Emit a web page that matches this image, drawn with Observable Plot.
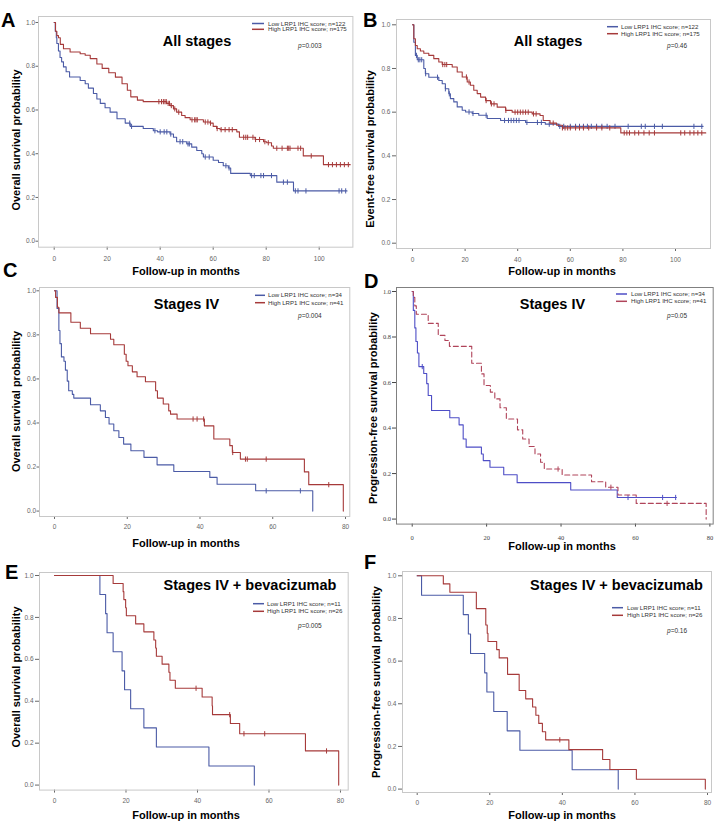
<!DOCTYPE html>
<html><head><meta charset="utf-8">
<script src="https://cdn.jsdelivr.net/npm/d3@7"></script>
<script src="https://cdn.jsdelivr.net/npm/@observablehq/plot@0.6"></script>
<style>
html,body{margin:0;padding:0;background:#fff;}
#fig{position:relative;width:727px;height:826px;overflow:hidden;background:#fff;}
#fig > svg{position:absolute;overflow:visible;}
</style></head><body><div id="fig"></div>
<script>
// ---------------- DATA ----------------
// Panel A: overall survival, all stages
const aLowT = [0,0.4,0.8,1.0,1.6,2.2,2.8,3.5,4.5,5.8,9.8,11.7,12.9,14.8,16.1,17.4,19.2,21.1,23.7,26.8,28.7,33.6,37.4,39,43.7,45,46.2,50,51.9,53.8,55.7,56.3,60,62,63.8,65.7,66.6,74,84,90.3,110.5];
const aLowS = [1,0.96,0.93,0.904,0.87,0.84,0.82,0.797,0.775,0.751,0.735,0.72,0.70,0.675,0.65,0.63,0.61,0.59,0.56,0.54,0.525,0.515,0.505,0.50,0.49,0.475,0.455,0.445,0.43,0.415,0.40,0.385,0.37,0.36,0.345,0.335,0.31,0.30,0.27,0.23,0.23];
const aLowCens = [28.5,29.2,38,40,41.5,42.5,44,47.5,48.5,50.5,51,57,58.5,64.8,66,74.5,75.5,78,79,82,86.5,88,91,92,95,107.5,108.5,110];
const aHighT = [0,0.5,1.0,1.6,2.3,3.5,6,9.8,11.7,13.6,16.1,18.1,20.6,23.1,25.6,27.6,28.9,31.4,33.6,42.4,43.7,45,46.2,48.1,49.4,51.3,56.3,58.8,60,61.3,62.6,68.9,69.9,75.8,79,80.2,82,82.7,94,101.6,111.7];
const aHighS = [1,0.96,0.94,0.93,0.90,0.88,0.865,0.857,0.85,0.835,0.81,0.79,0.77,0.75,0.72,0.69,0.66,0.645,0.638,0.63,0.62,0.605,0.59,0.575,0.565,0.555,0.545,0.54,0.525,0.515,0.51,0.50,0.475,0.465,0.455,0.45,0.435,0.425,0.39,0.35,0.35];
const aHighCens = [39.5,40.5,41.2,41.8,42.3,43,43.5,44.2,45.5,47,52,53,53.5,54,57,58,59,61.5,63,64.5,66,67.2,71.5,72.3,73,75,76,77.5,79.5,80.8,84,86,88,88.5,89,92,93,97,103.5,105,106.5,108,109.5,111];

// Panel B: event-free survival, all stages
const bLowT = [0,0.5,1.1,1.8,4.3,4.9,6.2,10,11.3,12.5,13.8,14.4,15.7,17,18.9,20.2,22.7,25.2,28.4,33.5,43,50.5,55.5,110.5];
const bLowS = [1,0.92,0.86,0.84,0.80,0.776,0.76,0.745,0.73,0.707,0.684,0.662,0.647,0.624,0.609,0.601,0.594,0.586,0.571,0.562,0.553,0.545,0.535,0.535];
const bLowCens = [1.5,2.2,2.8,3.5,5,9.5,12.5,14,21.5,23,28,35,36.5,37.5,38.5,39.5,40.5,43.5,47.5,49,52,56,57.5,60,62,63.5,65,66.5,68,70,72,74,77,82,87,88.5,92,95,107,110];
const bHighT = [0,0.5,1.1,1.8,3,4.3,6.2,8.1,10,11.3,15.1,17,18.9,20.8,22,23.3,24.6,25.9,27.8,29.7,32.2,35.4,37.9,45.5,48.5,49.7,52.3,54.8,57,79.2,111.5];
const bHighS = [1,0.936,0.905,0.89,0.88,0.87,0.86,0.845,0.83,0.818,0.807,0.784,0.761,0.738,0.723,0.70,0.685,0.669,0.653,0.638,0.623,0.608,0.60,0.592,0.585,0.562,0.55,0.54,0.528,0.505,0.505];
const bHighCens = [11.5,12.3,13,20.5,21.5,28,30,31,35.5,39,40,41,42,43,44,46,47,53.5,57,58,59,60,62,63.5,65,67,70,72,75,80.5,81.5,82.5,84.5,86,88,90,92,102,103.5,105.5,107,108.5,110];

// Panel C: overall survival, stage IV
const cLowT = [0,0.7,1.2,1.5,1.9,2.6,3.0,3.5,3.9,4.9,5.3,9.9,12.6,14,15,16.3,17.7,19,21,24.6,28.2,32.8,42.7,44.7,55.3,71];
const cLowS = [1,0.92,0.82,0.76,0.70,0.68,0.64,0.59,0.546,0.53,0.513,0.483,0.455,0.425,0.395,0.365,0.334,0.304,0.274,0.244,0.21,0.18,0.153,0.122,0.092,0];
const cLowCens = [58.2,67.6];
const cHighT = [0,0.3,0.8,1.2,4.5,7.1,9.9,15.4,16.3,19.2,19.7,20.2,21.4,22.7,25,27.8,28.3,29.9,31.4,31.9,33.7,41.2,43.8,48.2,48.9,51.1,68.7,69.9,79.4];
const cHighS = [1,0.97,0.925,0.90,0.857,0.83,0.805,0.78,0.755,0.712,0.68,0.66,0.632,0.61,0.587,0.546,0.513,0.486,0.455,0.44,0.418,0.387,0.327,0.297,0.266,0.236,0.178,0.12,0];
const cHighCens = [38.1,39.2,41.0,49.0,52.5,53,58.2,75.4];

// Panel D: progression-free survival, stage IV
const dLowT = [0,0.3,0.7,1.0,1.4,1.8,3.1,3.9,4.3,5.2,10.1,12.6,13.7,14.5,18.6,19.1,20.9,24.6,28.2,42.6,55.1,71];
const dLowS = [1,0.917,0.84,0.78,0.73,0.67,0.64,0.595,0.543,0.477,0.445,0.414,0.352,0.316,0.286,0.257,0.228,0.195,0.16,0.128,0.095,0.095];
const dLowCens = [2.7,58,67.3,70.8];
const dHighT = [0,0.3,0.7,1.1,4.3,7,8.8,10,16,18.6,19.3,21,22.2,23.6,25.3,28.3,29.7,31.4,33,34.5,35.5,40.3,48.2,52,55.3,60.2,79];
const dHighS = [1,0.974,0.937,0.90,0.86,0.807,0.785,0.759,0.685,0.638,0.587,0.558,0.528,0.489,0.44,0.392,0.352,0.319,0.286,0.25,0.22,0.194,0.164,0.14,0.106,0.069,0];
const dHighCens = [39.2,53.4,68.5];

// Panel E: overall survival, stage IV + bevacizumab
const eLowT = [0,12.7,14.3,14.7,16.4,18.9,19.6,21.3,25,28.5,43.2,55.9];
const eLowS = [1,0.909,0.818,0.727,0.636,0.545,0.455,0.364,0.273,0.182,0.091,0];
const eLowCens = [];
const eHighT = [0,16.4,19.2,19.4,19.9,20.1,22.7,25,27.8,28.3,28.5,30.1,32,32.3,33.8,41.3,44.1,44.2,49.2,51.8,70.2,79.5];
const eHighS = [1,0.962,0.923,0.885,0.846,0.808,0.769,0.731,0.692,0.654,0.615,0.577,0.538,0.50,0.462,0.42,0.378,0.336,0.294,0.245,0.163,0];
const eHighCens = [39.6,49.0,53,58.8,76.1];

// Panel F: progression-free survival, stage IV + bevacizumab
const fLowT = [0,1.2,12.7,14.1,14.7,18.6,19.2,21.1,24.8,28.3,42.7,55.4];
const fLowS = [1,0.909,0.818,0.727,0.636,0.545,0.455,0.364,0.273,0.182,0.091,0];
const fLowCens = [];
const fHighT = [0,7.2,9,16.3,18.9,19.3,19.5,21.9,22.6,24.9,28.1,29.9,31.8,32.7,33.5,34.5,35.4,41.8,51.1,53.1,60.4,79.4];
const fHighS = [1,0.962,0.923,0.846,0.769,0.731,0.692,0.654,0.615,0.538,0.462,0.423,0.385,0.346,0.308,0.269,0.231,0.185,0.139,0.092,0.046,0];
const fHighCens = [39.3];

// Ticks and texts
const xTicksLong = [0,20,40,60,80,100];
const xTicksShort = [0,20,40,60,80];
const yTicks = [0,0.2,0.4,0.6,0.8,1.0];
const panelLetters = ["A","B","C","D","E","F"];
const panelTitles = ["All stages","All stages","Stages IV","Stages IV","Stages IV + bevacizumab","Stages IV + bevacizumab"];
const yTitles = ["Overall survival probability","Event-free survival probability","Overall survival probability","Progression-free survival probability","Overall survival probability","Progression-free survival probability"];
const xTitle = "Follow-up in months";
const groupNames = ["Low LRP1 IHC score; n=","High LRP1 IHC score; n="];
const nLow = [122,122,34,34,11,11];
const nHigh = [175,175,41,41,26,26];
const pValues = ["0.003","0.46","0.004","0.05","0.005","0.16"];

// ---------------- LAYOUT ----------------
const series = [
  [aLowT,aLowS,aLowCens,aHighT,aHighS,aHighCens],
  [bLowT,bLowS,bLowCens,bHighT,bHighS,bHighCens],
  [cLowT,cLowS,cLowCens,cHighT,cHighS,cHighCens],
  [dLowT,dLowS,dLowCens,dHighT,dHighS,dHighCens],
  [eLowT,eLowS,eLowCens,eHighT,eHighS,eHighCens],
  [fLowT,fLowS,fLowCens,fHighT,fHighS,fHighCens]
];
const L = [
  {frame:[38.3,16,352.7,246.7], xcal:[54,319,100], ycal:[22,240.7], xticks:xTicksLong, xtp:5.7, yts:2.5, ytp:1,
   letter:[1,27], title:[197,45.5], leg:[252,264,268,23.5,29.3], p:[298,47.5], ylab:[16,140], xlab:[186,275]},
  {frame:[396,19,710,248], xcal:[412,675,100], ycal:[24.3,242.7], xticks:xTicksLong, xtp:6, yts:4, ytp:2,
   letter:[363,27], title:[548,46], leg:[607,618,621,26.7,33.7], p:[667,47.5], ylab:[370,149], xlab:[562,275]},
  {frame:[39,286.7,349.3,515.7], xcal:[54,345,80], ycal:[290,510.3], xticks:xTicksShort, xtp:5, yts:2.5, ytp:1,
   letter:[3,277], title:[186.5,309], leg:[255,265,268,295.3,302.7], p:[298,318], ylab:[16,401.5], xlab:[186,547]},
  {frame:[396.3,286.7,713,523.3], xcal:[412,709.7,80], ycal:[290.7,518.3], xticks:xTicksShort, xtp:8, yts:4, ytp:1.5, serif:true, dark:true,
   letter:[364,288], title:[552.5,309], leg:[616,627,631,294,301.3], p:[667,318], ylab:[373,408], xlab:[562,550]},
  {frame:[39,571.7,347.7,789.3], xcal:[54,340,80], ycal:[574.7,784.3], xticks:xTicksShort, xtp:5.4, yts:4, ytp:2,
   letter:[5,579], title:[250,590], leg:[253,264,267,603.7,611.3], p:[298,627.7], ylab:[16,677], xlab:[186,819]},
  {frame:[402.3,570.7,711.3,791.7], xcal:[417,707.3,80], ycal:[575,788.3], xticks:xTicksShort, xtp:4.7, yts:4, ytp:2,
   letter:[364,569], title:[616.5,590], leg:[612,623,627,607.7,615.3], p:[667,632.7], ylab:[376,682], xlab:[562,819]}
];
const lowColor = "#4b5ba6", highColor = "#a63a3a";
const lowColorD = "#4e4ec6", highColorD = "#b0445a";

function survAt(T, S, t) { let s = S[0]; for (let i = 0; i < T.length; i++) if (T[i] <= t) s = S[i]; return s; }
const censorSymbol = {draw(ctx, size) { const r = Math.sqrt(size / Math.PI); ctx.moveTo(0, -r); ctx.lineTo(0, r); }};

const fig = document.getElementById("fig");

L.forEach((cfg, i) => {
  const [lT, lS, lC, hT, hS, hC] = series[i];
  const [l, t, r, b] = cfg.frame;
  const [x0px, xEndPx, xEndVal] = cfg.xcal;
  const kx = (xEndPx - x0px) / xEndVal;
  const [y1px, y0px] = cfg.ycal;
  const ky = y0px - y1px;
  const mL = 40, mT = 25, mR = 10, mB = 22;
  const lowData = lT.map((tt, j) => ({t: tt, s: lS[j]}));
  const highData = hT.map((tt, j) => ({t: tt, s: hS[j]}));
  const lowCens = lC.map(c => ({t: c, s: survAt(lT, lS, c)}));
  const highCens = hC.map(c => ({t: c, s: survAt(hT, hS, c)}));
  const lc = cfg.dark ? lowColorD : lowColor;
  const hc = cfg.dark ? highColorD : highColor;
  const chart = Plot.plot({
    width: (r - l) + mL + mR,
    height: (b - t) + mT + mB,
    marginLeft: mL, marginTop: mT, marginRight: mR, marginBottom: mB,
    style: {fontFamily: cfg.serif ? "'Liberation Serif', serif" : "'Liberation Sans', Arial, sans-serif",
            fontSize: "6.5px", color: cfg.dark ? "#444" : "#666", background: "transparent", overflow: "visible"},
    x: {domain: [(l - x0px) / kx, (r - x0px) / kx], ticks: cfg.xticks, tickFormat: d => String(d),
        tickSize: 3, tickPadding: cfg.xtp, label: null},
    y: {domain: [(y0px - b) / ky, (y0px - t) / ky], ticks: yTicks, tickFormat: d3.format(".1f"),
        tickSize: cfg.yts, tickPadding: cfg.ytp, label: null},
    marks: [
      Plot.frame({stroke: cfg.dark ? "#808080" : "#c8c8c8", strokeWidth: 1}),
      Plot.line(lowData, {x: "t", y: "s", curve: "step-after", stroke: lc, strokeWidth: 1.1}),
      Plot.dot(lowCens, {x: "t", y: "s", symbol: censorSymbol, r: 2.6, stroke: lc, strokeWidth: 1, fill: "none"}),
      Plot.line(highData, {x: "t", y: "s", curve: "step-after", stroke: hc, strokeWidth: 1.1,
                           strokeDasharray: cfg.dark ? "5,3" : null}),
      Plot.dot(highCens, {x: "t", y: "s", symbol: censorSymbol, r: 2.6, stroke: hc, strokeWidth: 1, fill: "none"})
    ]
  });
  chart.style.position = "absolute";
  chart.style.left = (l - mL) + "px";
  chart.style.top = (t - mT) + "px";
  fig.appendChild(chart);
});

// ---------------- TEXT OVERLAY ----------------
const ov = d3.select(fig).append("svg")
  .attr("width", 727).attr("height", 826)
  .style("left", "0px").style("top", "0px").style("pointer-events", "none")
  .style("font-family", "'Liberation Sans', Arial, sans-serif");

L.forEach((cfg, i) => {
  ov.append("text").attr("x", cfg.letter[0]).attr("y", cfg.letter[1])
    .attr("font-size", 20).attr("font-weight", "bold").attr("fill", "#000").text(panelLetters[i]);
  ov.append("text").attr("x", cfg.title[0]).attr("y", cfg.title[1]).attr("text-anchor", "middle")
    .attr("font-size", 14.5).attr("font-weight", "bold").attr("fill", "#000").text(panelTitles[i]);
  const [sx0, sx1, tx, r1, r2] = cfg.leg;
  [[r1, cfg.dark ? lowColorD : lowColor, groupNames[0] + nLow[i]],
   [r2, cfg.dark ? highColorD : highColor, groupNames[1] + nHigh[i]]].forEach(([yy, col, txt]) => {
    ov.append("line").attr("x1", sx0).attr("x2", sx1).attr("y1", yy).attr("y2", yy)
      .attr("stroke", col).attr("stroke-width", 1.5);
    ov.append("text").attr("x", tx).attr("y", yy + 2.1).attr("font-size", 6.1).attr("fill", "#333").text(txt);
  });
  const pt = ov.append("text").attr("x", cfg.p[0]).attr("y", cfg.p[1]).attr("font-size", 6.5).attr("fill", "#333");
  pt.append("tspan").attr("font-style", "italic").text("p");
  pt.append("tspan").text("=" + pValues[i]);
  ov.append("text").attr("transform", `translate(${cfg.ylab[0]},${cfg.ylab[1]}) rotate(-90)`)
    .attr("text-anchor", "middle").attr("dominant-baseline", "central")
    .attr("font-size", 11).attr("font-weight", "bold").attr("fill", "#000").text(yTitles[i]);
  ov.append("text").attr("x", cfg.xlab[0]).attr("y", cfg.xlab[1]).attr("text-anchor", "middle")
    .attr("font-size", 11).attr("font-weight", "bold").attr("fill", "#000").text(xTitle);
});
</script></body></html>
